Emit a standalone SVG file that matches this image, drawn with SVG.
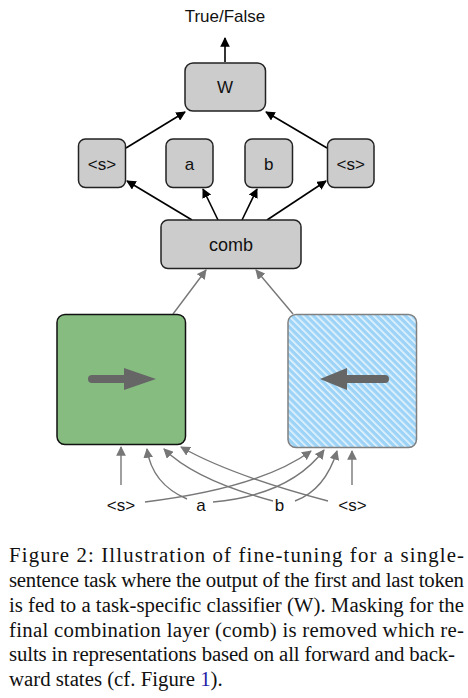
<svg xmlns="http://www.w3.org/2000/svg" width="468" height="698" viewBox="0 0 468 698">
<style>
.box{fill:#cccccc;stroke:#222;stroke-width:1.5}
.lbl{font-family:"Liberation Sans",Arial,sans-serif;font-size:17px;fill:#111;text-anchor:middle}
.k{stroke:#000;stroke-width:1.6;fill:none}
.g{stroke:#777;stroke-width:1.4;fill:none}
.cap{font-family:"Liberation Serif","Times New Roman",serif;font-size:20.8px;fill:#111}
</style>
<defs>
<marker id="ak" viewBox="0 0 10 10" refX="9" refY="5" markerWidth="6" markerHeight="6" orient="auto" markerUnits="strokeWidth"><path d="M0,0 L10,5 L0,10 z" fill="#000"/></marker>
<marker id="ag" viewBox="0 0 10 10" refX="9" refY="5" markerWidth="7" markerHeight="7" orient="auto" markerUnits="strokeWidth"><path d="M0,0 L10,5 L0,10 z" fill="#777"/></marker>
<pattern id="hatch" width="5" height="5" patternUnits="userSpaceOnUse" patternTransform="rotate(-45)">
<rect width="5" height="5" fill="#9dd3f7"/>
<rect x="0" y="0" width="1.6" height="5" fill="#e6f4fd"/>
</pattern>
</defs>
<g id="connectors">
<line class="k" x1="225" y1="62" x2="225" y2="38" marker-end="url(#ak)"/>
<line class="k" x1="126" y1="148" x2="185" y2="112" marker-end="url(#ak)"/>
<line class="k" x1="327" y1="148" x2="266" y2="112" marker-end="url(#ak)"/>
<line class="k" x1="192" y1="220" x2="127" y2="181" marker-end="url(#ak)"/>
<line class="k" x1="218" y1="220" x2="203" y2="189" marker-end="url(#ak)"/>
<line class="k" x1="242" y1="220" x2="257" y2="189" marker-end="url(#ak)"/>
<line class="k" x1="267" y1="220" x2="326" y2="181" marker-end="url(#ak)"/>
<line class="g" x1="173" y1="314" x2="206" y2="270" marker-end="url(#ag)"/>
<line class="g" x1="293" y1="314" x2="256" y2="270" marker-end="url(#ag)"/>
<line class="g" x1="121" y1="485" x2="121" y2="447" marker-end="url(#ag)"/>
<path class="g" d="M187,499 Q152,484 147,449" marker-end="url(#ag)"/>
<path class="g" d="M273,501 Q195,480 164,449" marker-end="url(#ag)"/>
<path class="g" d="M328,501 Q230,475 181,447" marker-end="url(#ag)"/>
<path class="g" d="M145,502 Q260,488 311,451" marker-end="url(#ag)"/>
<path class="g" d="M213,502 Q290,495 324,450" marker-end="url(#ag)"/>
<path class="g" d="M295,501 Q325,490 337,451" marker-end="url(#ag)"/>
<line class="g" x1="352" y1="485" x2="352" y2="451" marker-end="url(#ag)"/>
</g>
<text class="lbl" x="225" y="22">True/False</text>
<g id="W"><rect class="box" x="185" y="63" width="80.5" height="48" rx="8"/><text class="lbl" x="225" y="93">W</text></g>
<g id="s1"><rect class="box" x="78.5" y="139" width="47" height="48.5" rx="7"/><text class="lbl" x="102" y="170">&lt;s&gt;</text></g>
<g id="a"><rect class="box" x="166" y="139" width="47" height="48.5" rx="7"/><text class="lbl" x="189.5" y="170">a</text></g>
<g id="b"><rect class="box" x="245" y="139" width="47.5" height="48.5" rx="7"/><text class="lbl" x="268.7" y="170">b</text></g>
<g id="s2"><rect class="box" x="327.5" y="139" width="46.5" height="48.5" rx="7"/><text class="lbl" x="350.7" y="170">&lt;s&gt;</text></g>
<g id="comb"><rect class="box" x="161" y="220" width="140" height="48.5" rx="7"/><text class="lbl" x="231" y="251" style="font-size:18px">comb</text></g>
<g id="fwd">
<rect x="57" y="314.5" width="128.5" height="130" rx="8" fill="#86bc80" stroke="#111" stroke-width="1.5"/>
<line x1="92" y1="379" x2="126" y2="379" stroke="#666" stroke-width="8" stroke-linecap="round"/>
<polygon points="156,379 124,368 124,390" fill="#666"/>
</g>
<g id="bwd">
<rect x="288" y="314.5" width="128.5" height="133" rx="8" fill="url(#hatch)" stroke="#808080" stroke-width="1.5"/>
<line x1="385" y1="379" x2="345" y2="379" stroke="#666" stroke-width="8" stroke-linecap="round"/>
<polygon points="320,379 347,368 347,390" fill="#666"/>
</g>
<g id="inputs">
<text class="lbl" x="121" y="511">&lt;s&gt;</text>
<text class="lbl" x="201" y="511">a</text>
<text class="lbl" x="279.5" y="511">b</text>
<text class="lbl" x="352.5" y="511">&lt;s&gt;</text>
</g>
<g id="caption">
<text class="cap" x="9" y="562" textLength="455" lengthAdjust="spacing">Figure 2:  Illustration of fine-tuning for a single-</text>
<text class="cap" x="9" y="587" textLength="455" lengthAdjust="spacing">sentence task where the output of the first and last token</text>
<text class="cap" x="9" y="612" textLength="455" lengthAdjust="spacing">is fed to a task-specific classifier (W). Masking for the</text>
<text class="cap" x="9" y="637" textLength="455" lengthAdjust="spacing">final combination layer (comb) is removed which re-</text>
<text class="cap" x="9" y="661" textLength="446" lengthAdjust="spacing">sults in representations based on all forward and back-</text>
<text class="cap" x="9" y="686">ward states (cf. Figure <tspan fill="#1a1aa6">1</tspan>).</text>
</g>
</svg>
